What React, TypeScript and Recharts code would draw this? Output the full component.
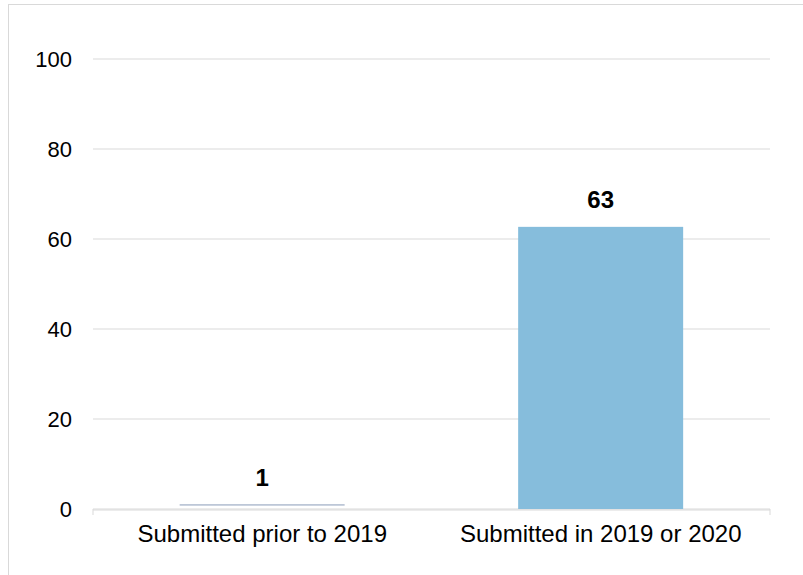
import React from 'react';
import { BarChart, Bar, XAxis, YAxis, CartesianGrid, LabelList, Cell } from 'recharts';

const categories = ['Submitted prior to 2019', 'Submitted in 2019 or 2020'];
const counts = [0.9, 62.7];
const yTicks = [0, 20, 40, 60, 80, 100];
const edgeTicks = [0, 1, 2];

const BAR_COLOR = '#86bddc';
const THIN_COLOR = '#8a9bb8';
const GRID = '#d9d9d9';
const FONT = '"Liberation Sans", Arial, sans-serif';

const data = categories.map((name, i) => ({ name, value: counts[i] }));

// first bar shows only as a thin top edge in the source
const BarShape = (props: any) => {
  const { x, y, width, height, index } = props;
  if (index === 0) {
    return <line x1={x} x2={x + width} y1={y} y2={y} stroke={THIN_COLOR} strokeWidth={1} />;
  }
  return <rect x={x} y={y} width={width} height={height} fill={BAR_COLOR} />;
};

export default function App() {
  return (
    <div
      style={{
        position: 'absolute',
        top: 4,
        left: 8,
        width: 795,
        height: 571,
        borderTop: `1px solid ${GRID}`,
        borderLeft: `1px solid ${GRID}`,
        fontFamily: FONT,
      }}
    >
      <BarChart
        width={794}
        height={570}
        data={data}
        margin={{ top: 54, right: 33, left: 0, bottom: 36 }}
        barCategoryGap="25.6%"
      >
        <CartesianGrid stroke={GRID} vertical={false} xAxisId="b" />
        <XAxis
          xAxisId="a"
          type="number"
          domain={[0, 2]}
          ticks={edgeTicks}
          tickFormatter={() => ''}
          axisLine={false}
          tickLine={{ stroke: GRID }}
          tickSize={6}
          height={1}
        />
        <XAxis
          xAxisId="b"
          dataKey="name"
          axisLine={{ stroke: GRID }}
          tickLine={false}
          tickSize={6}
          tickMargin={9}
          height={29}
          tick={{ fontSize: 24, fill: '#000', fontFamily: FONT }}
        />
        <YAxis
          domain={[0, 100]}
          ticks={yTicks}
          width={84}
          axisLine={false}
          tickLine={false}
          tickSize={0}
          tickMargin={21}
          tick={{ fontSize: 22, fill: '#000', fontFamily: FONT }}
        />
        <Bar dataKey="value" xAxisId="b" shape={BarShape} isAnimationActive={false}>
          {data.map((_, i) => (
            <Cell key={`c-${i}`} fill={i === 0 ? THIN_COLOR : BAR_COLOR} />
          ))}
          <LabelList
            dataKey="value"
            position="top"
            offset={19}
            formatter={(v: any) => Math.round(v)}
            style={{ fontSize: 24, fontWeight: 'bold', fill: '#000', fontFamily: FONT }}
          />
        </Bar>
      </BarChart>
    </div>
  );
}
